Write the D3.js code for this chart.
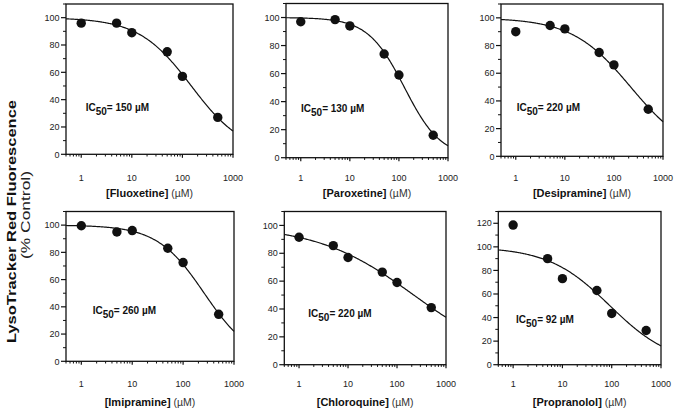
<!DOCTYPE html>
<html>
<head>
<meta charset="utf-8">
<script src="https://cdn.jsdelivr.net/npm/d3@7"></script>
<style>
  html, body { margin: 0; padding: 0; background: #fff; }
  svg { display: block; font-family: "Liberation Sans", Arial, sans-serif; }
</style>
</head>
<body>
<svg id="chart" width="674" height="408"></svg>
<script>
// ---------------- DATA ----------------
const drugs = ["Fluoxetine", "Paroxetine", "Desipramine", "Imipramine", "Chloroquine", "Propranolol"];
const concentrations = [1, 5, 10, 50, 100, 500]; // µM
const fluoxetine  = [96, 96, 89, 75, 57, 27];
const paroxetine  = [97, 98.5, 94, 74, 59, 16];
const desipramine = [90, 94.5, 92, 75, 66, 34];
const imipramine  = [99.5, 95, 96, 83, 72.5, 34.5];
const chloroquine = [91.5, 85.5, 77, 66.5, 59, 41];
const propranolol = [118.5, 90, 73, 63, 43.5, 29];
const seriesValues = [fluoxetine, paroxetine, desipramine, imipramine, chloroquine, propranolol];
// fitted dose-response parameters
const ic50Values = [150, 130, 220, 260, 220, 92];
const hillSlopes = [0.835, 1.165, 0.726, 0.94, 0.438, 0.695];
const topValue = 100;
// axes
const xDomain = [0.5, 1000];
const xTickLabels = [1, 10, 100, 1000];
const yMaxValues = [110, 110, 110, 110, 110, 130];
const yTickStep = 20;
const yLabel = "LysoTracker Red Fluorescence";
const yLabel2 = "(% Control)";
const unitLabel = "(\u00B5M)";

// ---------------- LAYOUT ----------------
const panels = [
  {x0: 66,    x1: 233, y0: 4,     y1: 154.3, lx: 85.7,  ly: 111, tickY: 180.5, titleY: 197},
  {x0: 286,   x1: 448, y0: 3.5,   y1: 157.7, lx: 301,   ly: 112, tickY: 180.5, titleY: 197},
  {x0: 501,   x1: 663, y0: 4,     y1: 156.3, lx: 516.7, ly: 111, tickY: 180.5, titleY: 197},
  {x0: 66,    x1: 234, y0: 211.5, y1: 361.3, lx: 92.7,  ly: 314, tickY: 386.5, titleY: 405.5},
  {x0: 284.3, x1: 446, y0: 211.5, y1: 364.7, lx: 308.3, ly: 317, tickY: 386.5, titleY: 405.5},
  {x0: 498.3, x1: 661, y0: 211.5, y1: 364.7, lx: 516,   ly: 323, tickY: 386.5, titleY: 405.5}
];

const svg = d3.select("#chart");

// minor log ticks
const minorX = [];
for (let dec = 0.1; dec <= 100; dec *= 10) {
  for (let m = 1; m <= 9; m++) {
    const v = +(m * dec).toPrecision(3);
    if (v >= xDomain[0] && v <= xDomain[1] && !xTickLabels.includes(v)) minorX.push(v);
  }
}

panels.forEach((p, i) => {
  const g = svg.append("g");
  const x = d3.scaleLog().domain(xDomain).range([p.x0, p.x1]);
  const y = d3.scaleLinear().domain([0, yMaxValues[i]]).range([p.y1, p.y0]);

  // frame
  g.append("rect")
    .attr("x", p.x0).attr("y", p.y0)
    .attr("width", p.x1 - p.x0).attr("height", p.y1 - p.y0)
    .attr("fill", "none").attr("stroke", "#111").attr("stroke-width", 1.3);

  // x axis minor & major ticks
  g.selectAll(".xminor").data(minorX).enter().append("line")
    .attr("x1", d => x(d)).attr("x2", d => x(d))
    .attr("y1", p.y1).attr("y2", p.y1 + 2.2)
    .attr("stroke", "#111").attr("stroke-width", 1);
  g.selectAll(".xmajor").data(xTickLabels).enter().append("line")
    .attr("x1", d => x(d)).attr("x2", d => x(d))
    .attr("y1", p.y1).attr("y2", p.y1 + 3.5)
    .attr("stroke", "#111").attr("stroke-width", 1.2);
  g.selectAll(".xlab").data(xTickLabels).enter().append("text")
    .attr("x", d => x(d)).attr("y", p.tickY)
    .attr("text-anchor", "middle").attr("font-size", 9).attr("fill", "#222")
    .text(d => d);

  // y axis ticks
  const yMajor = d3.range(0, yMaxValues[i] + 0.1, yTickStep);
  const yMinor = d3.range(yTickStep / 2, yMaxValues[i] + 0.1, yTickStep);
  g.selectAll(".ymajor").data(yMajor).enter().append("line")
    .attr("x1", p.x0 - 5).attr("x2", p.x0)
    .attr("y1", d => y(d)).attr("y2", d => y(d))
    .attr("stroke", "#111").attr("stroke-width", 1.2);
  g.selectAll(".yminor").data(yMinor).enter().append("line")
    .attr("x1", p.x0 - 3).attr("x2", p.x0)
    .attr("y1", d => y(d)).attr("y2", d => y(d))
    .attr("stroke", "#111").attr("stroke-width", 1);
  g.selectAll(".ylab").data(yMajor).enter().append("text")
    .attr("x", p.x0 - 6.5).attr("y", d => y(d) + 3.2)
    .attr("text-anchor", "end").attr("font-size", 9).attr("fill", "#222")
    .text(d => d);

  // fitted curve
  const curvePts = d3.range(0, 201).map(k => {
    const lx = Math.log10(xDomain[0]) + k / 200 * (Math.log10(xDomain[1]) - Math.log10(xDomain[0]));
    const c = Math.pow(10, lx);
    return [c, topValue / (1 + Math.pow(c / ic50Values[i], hillSlopes[i]))];
  });
  g.append("path")
    .datum(curvePts)
    .attr("d", d3.line().x(d => x(d[0])).y(d => y(d[1])))
    .attr("fill", "none").attr("stroke", "#111").attr("stroke-width", 1.2);

  // points
  g.selectAll(".pt").data(concentrations.map((c, k) => [c, seriesValues[i][k]])).enter()
    .append("circle")
    .attr("cx", d => x(d[0])).attr("cy", d => y(d[1]))
    .attr("r", 4.7).attr("fill", "#111");

  // IC50 label
  const t = g.append("text").attr("x", p.lx).attr("y", p.ly)
    .attr("font-size", 10).attr("font-weight", "bold").attr("fill", "#111");
  t.append("tspan").text("IC");
  t.append("tspan").attr("dy", 4).attr("font-size", 10).text("50");
  t.append("tspan").attr("dy", -4).text("= " + ic50Values[i] + " \u00B5M");

  // x axis title
  const tt = g.append("text").attr("x", (p.x0 + p.x1) / 2).attr("y", p.titleY)
    .attr("text-anchor", "middle").attr("font-size", 11).attr("fill", "#111");
  tt.append("tspan").attr("font-weight", "bold").text("[" + drugs[i] + "]");
  tt.append("tspan").attr("font-size", 10.5).attr("fill", "#333").text(" " + unitLabel);
});

// y axis label (shared)
svg.append("text")
  .attr("transform", "translate(16,221.5) rotate(-90)")
  .attr("text-anchor", "middle").attr("font-size", 12.5).attr("font-weight", "bold").attr("fill", "#111")
  .attr("textLength", 243).attr("lengthAdjust", "spacingAndGlyphs")
  .text(yLabel);
svg.append("text")
  .attr("transform", "translate(30,215) rotate(-90)")
  .attr("text-anchor", "middle").attr("font-size", 12).attr("fill", "#222")
  .attr("textLength", 88).attr("lengthAdjust", "spacingAndGlyphs")
  .text(yLabel2);
</script>
</body>
</html>
